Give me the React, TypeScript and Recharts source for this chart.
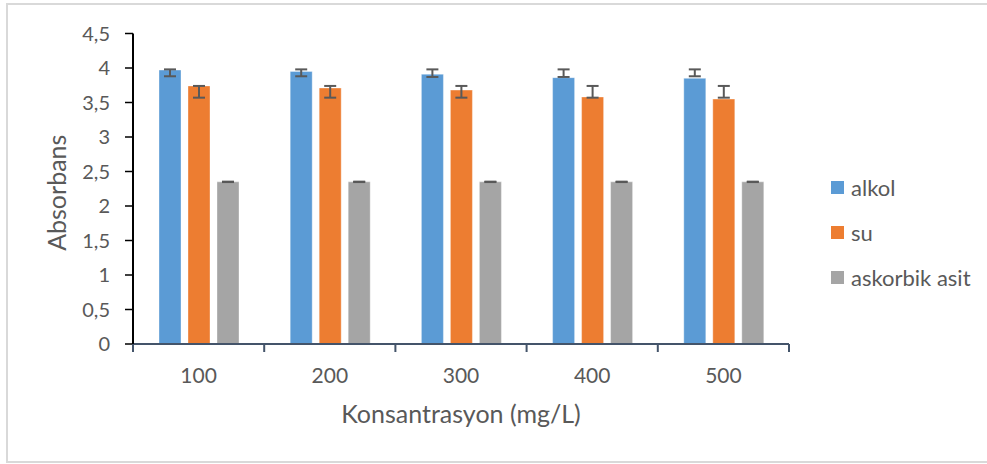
import React from 'react';
import { BarChart, Bar, XAxis, YAxis, ErrorBar, Legend } from 'recharts';

// ---- data ----
const categories = ['100', '200', '300', '400', '500'];
const alkol = [3.97, 3.95, 3.91, 3.86, 3.85];
const alkolErrLow = [0.09, 0.07, 0.04, -0.01, -0.03];
const alkolErrHigh = [0.01, 0.03, 0.07, 0.12, 0.13];
const su = [3.74, 3.71, 3.68, 3.58, 3.55];
const suErrLow = [0.17, 0.14, 0.11, 0.01, -0.02];
const suErrHigh = [0.0, 0.03, 0.06, 0.16, 0.19];
const askorbik = [2.35, 2.35, 2.35, 2.35, 2.35];
const askorbikErrLow = [0.003, 0.003, 0.003, 0.003, 0.003];
const askorbikErrHigh = [0.003, 0.003, 0.003, 0.003, 0.003];
const yTicks = [0, 0.5, 1, 1.5, 2, 2.5, 3, 3.5, 4, 4.5];
const seriesNames = ['alkol', 'su', 'askorbik asit'];
const seriesColors = ['#5B9BD5', '#ED7D31', '#A5A5A5'];
const xTitle = 'Konsantrasyon (mg/L)';
const yTitle = 'Absorbans';

const data = categories.map((c, i) => ({
  name: c,
  alkol: alkol[i],
  alkolErr: [alkolErrLow[i], alkolErrHigh[i]],
  su: su[i],
  suErr: [suErrLow[i], suErrHigh[i]],
  askorbik: askorbik[i],
  askorbikErr: [askorbikErrLow[i], askorbikErrHigh[i]],
}));

// ---- layout ----
const W = 987;
const H = 464;
const M = { top: 33.5, right: 198, bottom: 0, left: 0 };
const Y_AXIS_W = 133;
const X_AXIS_H = 120;
const X_TICK_SIZE = 8;
const X_TICK_MARGIN = 16;
const PLOT_W = W - M.left - M.right - Y_AXIS_W;
const HALF_BAND = PLOT_W / categories.length / 2;
const TEXT = '#595959';
const X_AXIS_COLOR = '#44546A';
const FONT = 'Lato, "Open Sans", sans-serif';

const CatTick = (props: any) => {
  const { x, y, payload, index } = props;
  const axisY = y - X_TICK_MARGIN - X_TICK_SIZE;
  return (
    <g>
      <line x1={x - HALF_BAND} x2={x - HALF_BAND} y1={axisY} y2={axisY + X_TICK_SIZE} stroke={X_AXIS_COLOR} strokeWidth={2} />
      {index === categories.length - 1 && (
        <line x1={x + HALF_BAND} x2={x + HALF_BAND} y1={axisY} y2={axisY + X_TICK_SIZE} stroke={X_AXIS_COLOR} strokeWidth={2} />
      )}
      <text x={x} y={y} dy="0.72em" textAnchor="middle" fill={TEXT} fontSize={21} fontFamily={FONT}>
        {payload.value}
      </text>
    </g>
  );
};

const XTitle = (props: any) => {
  const vb = props.viewBox || { x: 133, y: 344, width: PLOT_W, height: X_AXIS_H };
  const cx = vb.x + vb.width / 2;
  return (
    <text x={cx} y={vb.y + 79} textAnchor="middle" fill={TEXT} fontSize={25} fontFamily={FONT}>
      {xTitle}
    </text>
  );
};

const YTitle = (props: any) => {
  const vb = props.viewBox || { x: 0, y: 33.5, width: Y_AXIS_W, height: 310.5 };
  const cx = vb.x + 56;
  const cy = vb.y + vb.height / 2 + 4;
  return (
    <text
      x={cx}
      y={cy}
      transform={`rotate(-90 ${cx} ${cy})`}
      textAnchor="middle"
      dominantBaseline="central"
      fill={TEXT}
      fontSize={25}
      fontFamily={FONT}
    >
      {yTitle}
    </text>
  );
};

const LegendContent = () => (
  <div style={{ display: 'flex', flexDirection: 'column', fontFamily: FONT }}>
    {seriesNames.map((name, i) => (
      <div key={name} style={{ display: 'flex', alignItems: 'center', height: 45 }}>
        <span style={{ display: 'inline-block', width: 13, height: 13, background: seriesColors[i], marginRight: 7 }} />
        <span style={{ fontSize: 22, lineHeight: '22px', color: TEXT, whiteSpace: 'nowrap' }}>{name}</span>
      </div>
    ))}
  </div>
);

const fmt = (v: number) => String(v).replace('.', ',');

export default function App() {
  return (
    <div
      style={{
        position: 'fixed',
        left: 0,
        top: 0,
        width: W,
        height: H,
        overflow: 'hidden',
        background: '#ffffff',
        fontFamily: FONT,
      }}
    >
      <div
        style={{
          position: 'absolute',
          left: 6,
          top: 3,
          width: 1000,
          height: 460,
          boxSizing: 'border-box',
          border: '2px solid #d9d9d9',
        }}
      />
      <div style={{ position: 'absolute', left: 0, top: 0 }}>
        <BarChart width={W} height={H} data={data} margin={M} barSize={22} barGap={7}>
          <XAxis
            dataKey="name"
            height={X_AXIS_H}
            axisLine={{ stroke: X_AXIS_COLOR, strokeWidth: 2 }}
            tickLine={false}
            tickSize={X_TICK_SIZE}
            tickMargin={X_TICK_MARGIN}
            tick={<CatTick />}
            interval={0}
            label={{ content: XTitle }}
          />
          <YAxis
            width={Y_AXIS_W}
            domain={[0, 4.5]}
            ticks={yTicks}
            interval={0}
            tickFormatter={fmt}
            axisLine={{ stroke: '#000000', strokeWidth: 2 }}
            tickLine={{ stroke: '#000000', strokeWidth: 1.5 }}
            tickSize={8}
            tickMargin={15}
            tick={{ fill: TEXT, fontSize: 20, fontFamily: FONT }}
            label={{ content: YTitle }}
          />
          <Legend
            layout="vertical"
            align="center"
            verticalAlign="middle"
            content={<LegendContent />}
            wrapperStyle={{ left: 831, top: 165, width: 'auto' }}
          />
          <Bar dataKey="alkol" name={seriesNames[0]} fill={seriesColors[0]} stroke="#ffffff" strokeOpacity={0.35} strokeWidth={1} isAnimationActive={false}>
            <ErrorBar dataKey="alkolErr" width={6} strokeWidth={2} stroke="#595959" isAnimationActive={false} />
          </Bar>
          <Bar dataKey="su" name={seriesNames[1]} fill={seriesColors[1]} stroke="#ffffff" strokeOpacity={0.35} strokeWidth={1} isAnimationActive={false}>
            <ErrorBar dataKey="suErr" width={6} strokeWidth={2} stroke="#595959" isAnimationActive={false} />
          </Bar>
          <Bar dataKey="askorbik" name={seriesNames[2]} fill={seriesColors[2]} stroke="#ffffff" strokeOpacity={0.35} strokeWidth={1} isAnimationActive={false}>
            <ErrorBar dataKey="askorbikErr" width={6} strokeWidth={2} stroke="#595959" isAnimationActive={false} />
          </Bar>
        </BarChart>
      </div>
    </div>
  );
}
